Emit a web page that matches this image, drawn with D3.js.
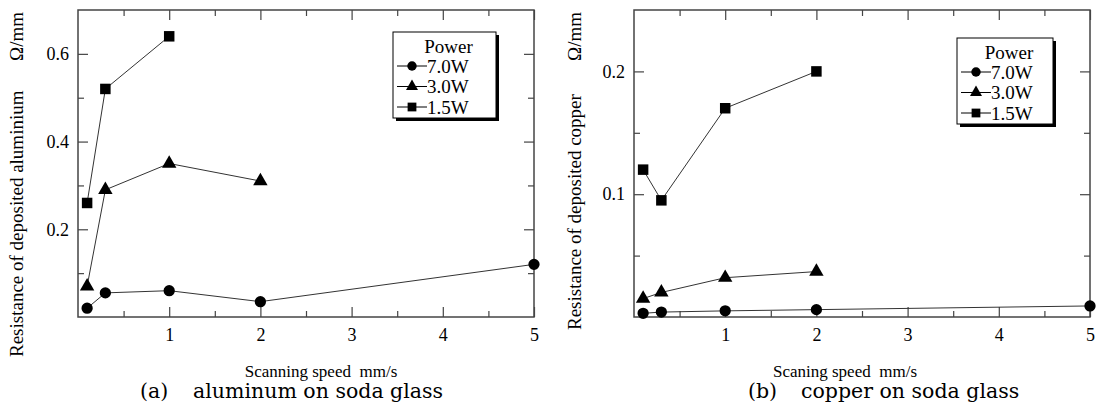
<!DOCTYPE html>
<meta charset="utf-8">
<html>
<head>
<style>
  body { margin: 0; background: #fff; }
  svg text { font-family: "Liberation Serif", "Times New Roman", serif; fill: #000; }
  .axis text { font-size: 18px; }
  .axis line { stroke: #444; stroke-width: 1.2; }
  .axis path.domain { display: none; }
  .axisTitle { font-size: 17px; }
  .yTitle { font-size: 19px; }
  .legend text { font-size: 19px; }
  svg text.caption { font-family: "DejaVu Serif", serif; font-size: 20.5px; }
</style>
<script src="https://d3js.org/d3.v7.min.js"></script>
</head>
<body>
<div id="chart"></div>
<script>
// scanning speed, mm/s
var speeds = [0.1, 0.3, 1, 2, 5];

// (a) aluminum on soda glass, ohm/mm
var al70 = [0.02, 0.055, 0.06, 0.035, 0.12];
var al30 = [0.07, 0.29, 0.35, 0.31];
var al15 = [0.26, 0.52, 0.64];

// (b) copper on soda glass, ohm/mm
var cu70 = [0.003, 0.004, 0.005, 0.006, 0.009];
var cu30 = [0.015, 0.02, 0.032, 0.037];
var cu15 = [0.12, 0.095, 0.17, 0.2];

var powers = ["7.0W", "3.0W", "1.5W"];
var shapes = [d3.symbolCircle, d3.symbolTriangle, d3.symbolSquare];
var sizes = [100, 90, 110];

var xTicks = [1, 2, 3, 4, 5];
var xMinor = [0.5, 1.5, 2.5, 3.5, 4.5];
var alTicks = [0.2, 0.4, 0.6];
var alMinor = [0.1, 0.3, 0.5];
var cuTicks = [0.1, 0.2];
var cuMinor = [0.05, 0.15];

var W = 1096, H = 405;
var serif = "Liberation Serif, Times New Roman, serif";
var svg = d3.select("#chart").append("svg")
    .attr("width", W)
    .attr("height", H);

function panel(opt) {
  var x = d3.scaleLinear().domain([0, 5]).range([opt.left, opt.left + 456]);
  var y = d3.scaleLinear().domain([0, opt.ymax]).range([317, 10]);
  var g = svg.append("g");

  // frame
  g.append("rect")
    .attr("x", x(0)).attr("y", y(opt.ymax))
    .attr("width", x(5) - x(0)).attr("height", y(0) - y(opt.ymax))
    .attr("fill", "none").attr("stroke", "#444").attr("stroke-width", 1.5);

  // bottom / top axes, ticks pointing inward
  g.append("g").attr("class", "axis")
    .attr("transform", "translate(0," + y(0) + ")")
    .call(d3.axisBottom(x).tickValues(xTicks).tickSize(-10).tickPadding(11).tickFormat(d3.format("d")));
  g.append("g").attr("class", "axis")
    .attr("transform", "translate(0," + y(0) + ")")
    .call(d3.axisBottom(x).tickValues(xMinor).tickSize(-6).tickFormat(""));
  g.append("g").attr("class", "axis")
    .attr("transform", "translate(0," + y(opt.ymax) + ")")
    .call(d3.axisTop(x).tickValues(xTicks).tickSize(-10).tickFormat(""));
  g.append("g").attr("class", "axis")
    .attr("transform", "translate(0," + y(opt.ymax) + ")")
    .call(d3.axisTop(x).tickValues(xMinor).tickSize(-6).tickFormat(""));

  // left / right axes
  g.append("g").attr("class", "axis")
    .attr("transform", "translate(" + x(0) + ",0)")
    .call(d3.axisLeft(y).tickValues(opt.ticks).tickSize(-10).tickPadding(9).tickFormat(d3.format(".1f")));
  g.append("g").attr("class", "axis")
    .attr("transform", "translate(" + x(0) + ",0)")
    .call(d3.axisLeft(y).tickValues(opt.minor).tickSize(-6).tickFormat(""));
  g.append("g").attr("class", "axis")
    .attr("transform", "translate(" + x(5) + ",0)")
    .call(d3.axisRight(y).tickValues(opt.ticks).tickSize(-10).tickFormat(""));
  g.append("g").attr("class", "axis")
    .attr("transform", "translate(" + x(5) + ",0)")
    .call(d3.axisRight(y).tickValues(opt.minor).tickSize(-6).tickFormat(""));
  g.selectAll(".axis").attr("font-family", serif).attr("font-size", 18);

  // series lines + markers
  var line = d3.line().x(function(d) { return x(d[0]); }).y(function(d) { return y(d[1]); });
  opt.series.forEach(function(vals, i) {
    var pts = vals.map(function(v, j) { return [speeds[j], v]; });
    g.append("path").datum(pts)
      .attr("d", line)
      .attr("fill", "none").attr("stroke", "#333").attr("stroke-width", 1);
    g.selectAll(null).data(pts).enter().append("path")
      .attr("d", d3.symbol().type(shapes[i]).size(sizes[i]))
      .attr("transform", function(d) { return "translate(" + x(d[0]) + "," + y(d[1]) + ")"; })
      .attr("fill", "#000");
  });

  // axis titles
  g.append("text").attr("class", "axisTitle")
    .attr("x", opt.xTitleX).attr("y", 377)
    .attr("text-anchor", "middle")
    .attr("xml:space", "preserve")
    .text(opt.xTitle);
  g.append("text").attr("class", "yTitle")
    .attr("transform", "translate(" + opt.yTitleX + "," + opt.yTitleStart + ") rotate(-90)")
    .text(opt.yTitle);
  g.append("text").attr("class", "yTitle")
    .attr("transform", "translate(" + opt.yTitleX + ",12) rotate(-90)")
    .attr("text-anchor", "end")
    .text("Ω/mm");

  // legend with drop shadow
  var lg = g.append("g").attr("class", "legend")
    .attr("transform", "translate(" + opt.legX + "," + opt.legY + ")");
  lg.append("rect").attr("x", 3).attr("y", 3).attr("width", opt.legW).attr("height", 86).attr("fill", "#000");
  lg.append("rect").attr("x", 0).attr("y", 0).attr("width", opt.legW).attr("height", 86)
    .attr("fill", "#fff").attr("stroke", "#000").attr("stroke-width", 1);
  lg.append("text").attr("x", opt.legW / 2 + 4).attr("y", 21).attr("text-anchor", "middle").text("Power");
  powers.forEach(function(p, i) {
    var ry = 34 + i * 20.5;
    lg.append("line").attr("x1", 4).attr("x2", 34).attr("y1", ry).attr("y2", ry)
      .attr("stroke", "#000").attr("stroke-width", 1);
    lg.append("path")
      .attr("d", d3.symbol().type(shapes[i]).size(sizes[i] * 0.7))
      .attr("transform", "translate(19," + ry + ")");
    lg.append("text").attr("x", 34).attr("y", ry + 6.5).text(p);
  });

  // caption
  g.append("text").attr("class", "caption").attr("x", opt.capX).attr("y", 398).text(opt.capTag);
  g.append("text").attr("class", "caption").attr("x", opt.capX + 53).attr("y", 398).text(opt.caption);
}

panel({
  left: 78, ymax: 0.7, ticks: alTicks, minor: alMinor,
  series: [al70, al30, al15],
  xTitle: "Scanning speed  mm/s", xTitleX: 321,
  yTitle: "Resistance of deposited aluminium", yTitleX: 23, yTitleStart: 357,
  legX: 393, legY: 32, legW: 103,
  capX: 140, capTag: "(a)", caption: "aluminum on soda glass"
});

panel({
  left: 634, ymax: 0.25, ticks: cuTicks, minor: cuMinor,
  series: [cu70, cu30, cu15],
  xTitle: "Scaning speed  mm/s", xTitleX: 845,
  yTitle: "Resistance of deposited copper", yTitleX: 581, yTitleStart: 330,
  legX: 957, legY: 38, legW: 96,
  capX: 748, capTag: "(b)", caption: "copper on soda glass"
});
</script>
</body>
</html>
